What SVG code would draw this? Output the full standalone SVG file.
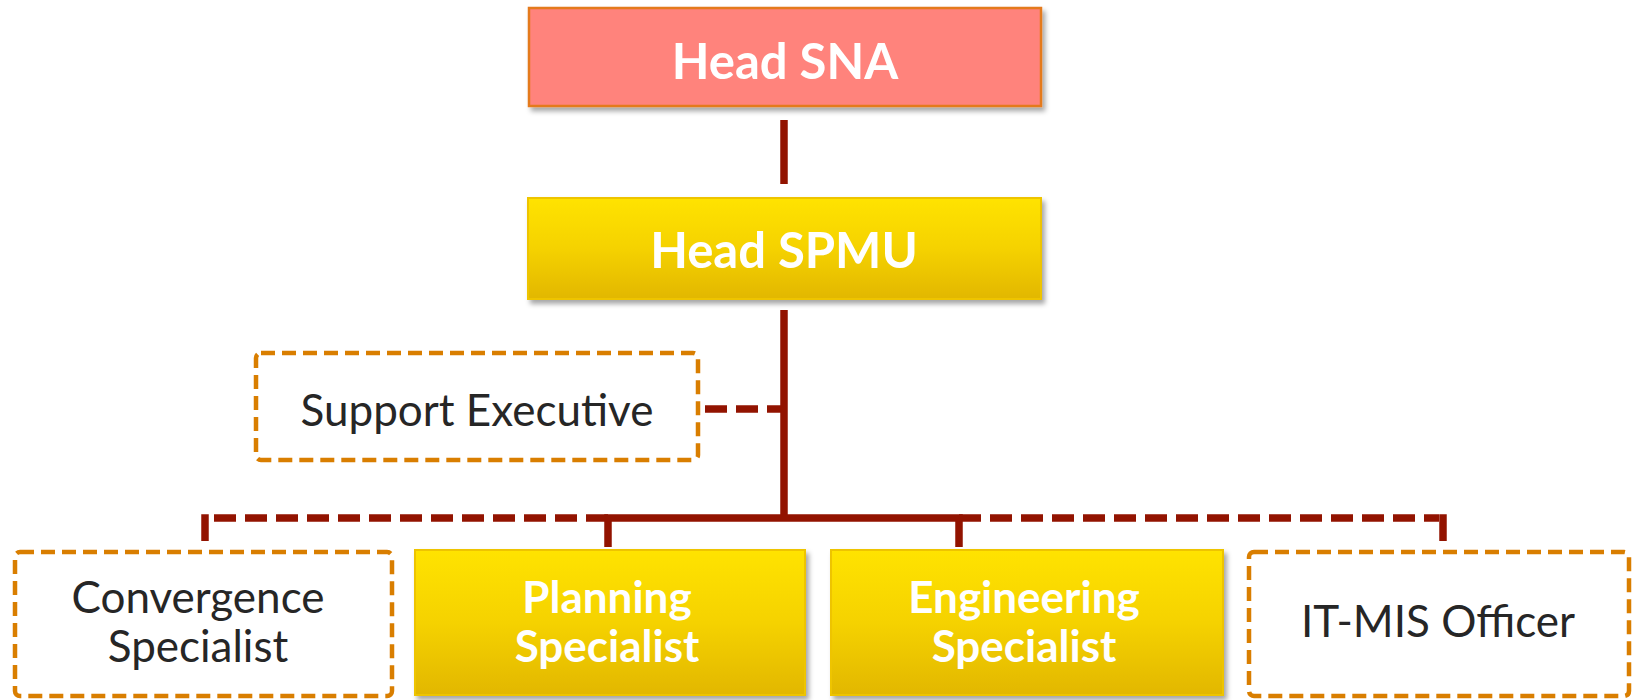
<svg xmlns="http://www.w3.org/2000/svg" width="1633" height="700" viewBox="0 0 1633 700">
<defs>
<linearGradient id="yel" x1="0" y1="0" x2="0" y2="1">
<stop offset="0" stop-color="#FFE300"/>
<stop offset="0.5" stop-color="#F5D200"/>
<stop offset="1" stop-color="#E2B700"/>
</linearGradient>
<filter id="sh" x="-5%" y="-5%" width="112%" height="120%">
<feDropShadow dx="3" dy="4" stdDeviation="2.5" flood-color="#000" flood-opacity="0.35"/>
</filter>
</defs>
<style>
.solid{fill:url(#yel);stroke:#EEC400;stroke-width:2;filter:url(#sh)}
.dash{fill:#fff;stroke:#D97E00;stroke-width:4.5;stroke-dasharray:14 7}
.bt{font-family:Lato,"Open Sans",sans-serif;font-weight:bold;fill:#fff;text-anchor:middle;font-size:44px}
.rt{font-family:Lato,"Open Sans",sans-serif;fill:#262626;text-anchor:middle;font-size:44px}
.big{font-size:49px}
.c{fill:none;stroke:#921300;stroke-width:7.5}
.cd{fill:none;stroke:#921300;stroke-width:7.5;stroke-dasharray:22 9}
</style>
<rect width="1633" height="700" fill="#fff"/>
<g id="connectors">
<line class="c" x1="784" y1="120" x2="784" y2="184"/>
<line class="c" x1="784" y1="310" x2="784" y2="518"/>
<path class="c" d="M608 547 V518 H959 V547"/>
<path class="cd" d="M608 518 H209"/>
<path class="c" d="M205 541 V514.25"/>
<path class="cd" d="M959 518 H1439"/>
<path class="c" d="M1443 541 V514.25"/>
<path class="cd" d="M705 409 H781"/>
</g>
<g id="head-sna">
<rect x="529" y="8" width="512" height="98" fill="#FF837C" stroke="#E47A1E" stroke-width="2.5" filter="url(#sh)"/>
<text class="bt big" x="785" y="79">Head SNA</text>
</g>
<g id="head-spmu">
<rect class="solid" x="528" y="198" width="513" height="101"/>
<text class="bt big" x="784" y="268">Head SPMU</text>
</g>
<g id="support-executive">
<rect class="dash" x="256" y="353" width="442" height="107" rx="5"/>
<text class="rt" x="477" y="426">Support Executive</text>
</g>
<g id="convergence-specialist">
<rect class="dash" x="15" y="552" width="377" height="144" rx="5"/>
<text class="rt" x="198" y="613">Convergence</text>
<text class="rt" x="198" y="662">Specialist</text>
</g>
<g id="planning-specialist">
<rect class="solid" x="415" y="550" width="390" height="145"/>
<text class="bt" x="607" y="613">Planning</text>
<text class="bt" x="607" y="662">Specialist</text>
</g>
<g id="engineering-specialist">
<rect class="solid" x="831" y="550" width="392" height="145"/>
<text class="bt" x="1024" y="613">Engineering</text>
<text class="bt" x="1024" y="662">Specialist</text>
</g>
<g id="it-mis-officer">
<rect class="dash" x="1249" y="552" width="380" height="144" rx="5"/>
<text class="rt" x="1438" y="637">IT-MIS Officer</text>
</g>
</svg>
